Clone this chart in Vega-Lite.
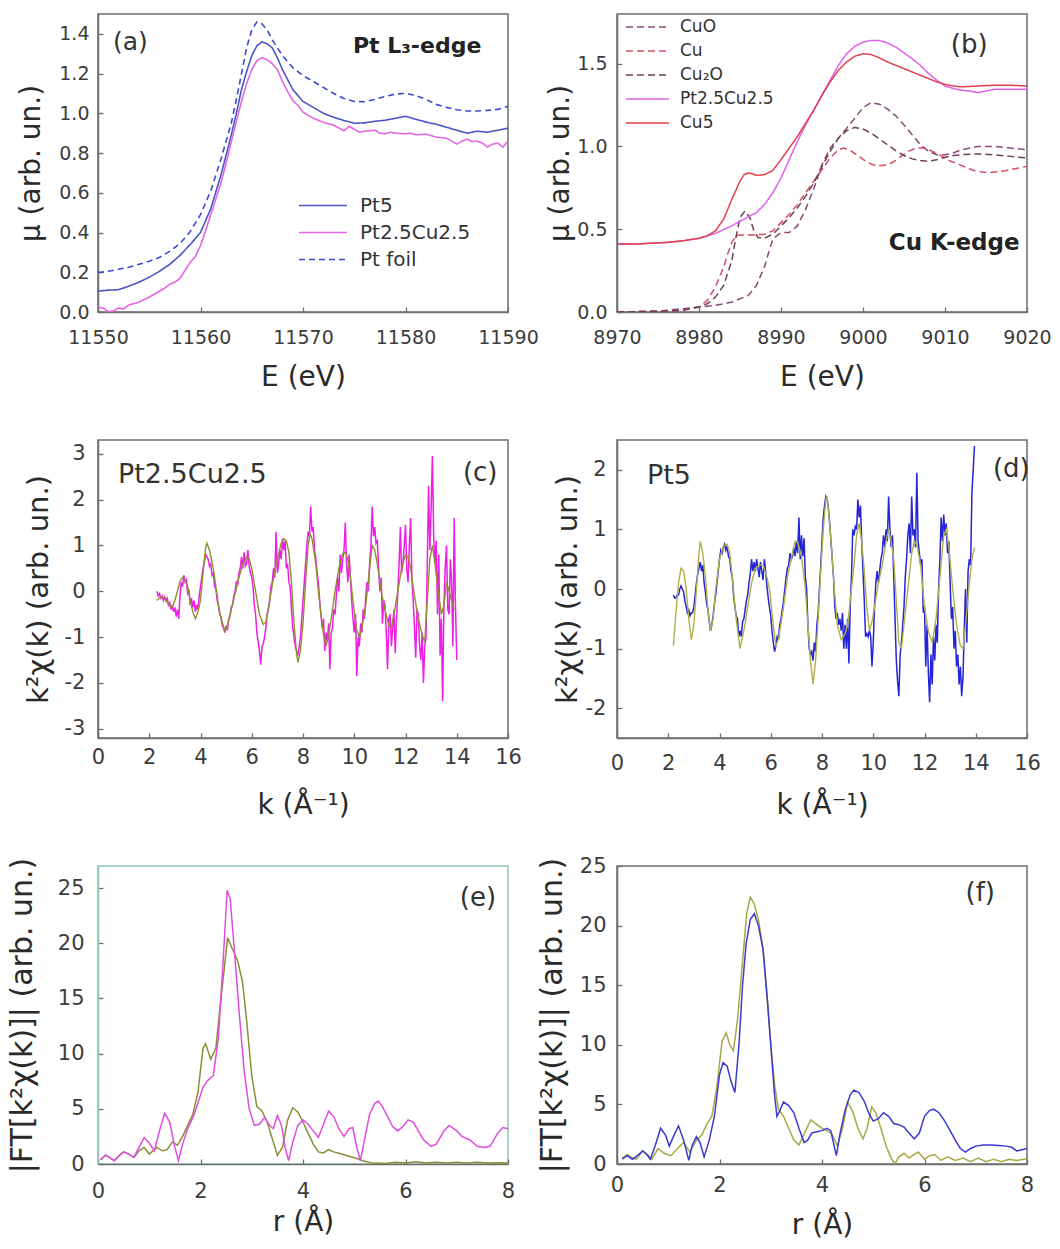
{
"$schema": "https://vega.github.io/schema/vega-lite/v6.json",
"background": "white",
"padding": {"left": 6, "top": 13, "right": 0, "bottom": 0},
"columns": 2,
"spacing": {"row": 128, "column": 109},
"bounds": "flush",
"resolve": {"scale": {"color": "independent", "strokeDash": "independent", "x": "independent", "y": "independent"}, "legend": {"color": "independent", "strokeDash": "independent"}},
"config": {
  "font": "DejaVu Sans",
  "view": {"stroke": "#6e6e6e", "strokeWidth": 1.5},
  "axis": {"grid": false, "domainColor": "#6e6e6e", "domainWidth": 1.5, "tickColor": "#6e6e6e", "tickWidth": 1.3, "tickSize": -5, "labelFont": "DejaVu Sans", "labelFontSize": 19, "labelColor": "#3c3c3c", "labelFlush": false, "labelOverlap": false, "titleFont": "DejaVu Sans", "titleFontSize": 28, "titleFontWeight": "normal", "titleColor": "#2a2a2a"},
  "axisY": {"titleBaseline": "middle"},
  "axisX": {"titleBaseline": "middle"},
  "text": {"font": "DejaVu Sans"}
},
"datasets": {
"pa": [
{"x":11550,"y":0.198,"s":"Pt foil"},{"x":11551,"y":0.205,"s":"Pt foil"},{"x":11552,"y":0.215,"s":"Pt foil"},{"x":11553,"y":0.225,"s":"Pt foil"},{"x":11554,"y":0.24,"s":"Pt foil"},{"x":11555,"y":0.255,"s":"Pt foil"},{"x":11556,"y":0.275,"s":"Pt foil"},{"x":11557,"y":0.305,"s":"Pt foil"},{"x":11558,"y":0.345,"s":"Pt foil"},{"x":11559,"y":0.405,"s":"Pt foil"},{"x":11560,"y":0.49,"s":"Pt foil"},{"x":11561,"y":0.61,"s":"Pt foil"},{"x":11562,"y":0.77,"s":"Pt foil"},{"x":11563,"y":0.95,"s":"Pt foil"},{"x":11563.5,"y":1.07,"s":"Pt foil"},{"x":11564,"y":1.2,"s":"Pt foil"},{"x":11564.5,"y":1.33,"s":"Pt foil"},{"x":11565,"y":1.42,"s":"Pt foil"},{"x":11565.5,"y":1.46,"s":"Pt foil"},{"x":11566,"y":1.45,"s":"Pt foil"},{"x":11566.5,"y":1.42,"s":"Pt foil"},{"x":11567,"y":1.37,"s":"Pt foil"},{"x":11567.5,"y":1.33,"s":"Pt foil"},{"x":11568,"y":1.29,"s":"Pt foil"},{"x":11569,"y":1.23,"s":"Pt foil"},{"x":11570,"y":1.19,"s":"Pt foil"},{"x":11571,"y":1.16,"s":"Pt foil"},{"x":11572,"y":1.13,"s":"Pt foil"},{"x":11573,"y":1.1,"s":"Pt foil"},{"x":11574,"y":1.075,"s":"Pt foil"},{"x":11575,"y":1.06,"s":"Pt foil"},{"x":11576,"y":1.058,"s":"Pt foil"},{"x":11577,"y":1.07,"s":"Pt foil"},{"x":11578,"y":1.085,"s":"Pt foil"},{"x":11579,"y":1.097,"s":"Pt foil"},{"x":11580,"y":1.1,"s":"Pt foil"},{"x":11581,"y":1.09,"s":"Pt foil"},{"x":11582,"y":1.07,"s":"Pt foil"},{"x":11583,"y":1.045,"s":"Pt foil"},{"x":11584,"y":1.03,"s":"Pt foil"},{"x":11585,"y":1.018,"s":"Pt foil"},{"x":11586,"y":1.012,"s":"Pt foil"},{"x":11587,"y":1.012,"s":"Pt foil"},{"x":11588,"y":1.015,"s":"Pt foil"},{"x":11589,"y":1.02,"s":"Pt foil"},{"x":11590,"y":1.035,"s":"Pt foil"},
{"x":11550,"y":0.105,"s":"Pt5"},{"x":11551,"y":0.11,"s":"Pt5"},{"x":11552,"y":0.112,"s":"Pt5"},{"x":11553,"y":0.13,"s":"Pt5"},{"x":11554,"y":0.15,"s":"Pt5"},{"x":11555,"y":0.175,"s":"Pt5"},{"x":11556,"y":0.205,"s":"Pt5"},{"x":11557,"y":0.24,"s":"Pt5"},{"x":11558,"y":0.285,"s":"Pt5"},{"x":11559,"y":0.34,"s":"Pt5"},{"x":11560,"y":0.4,"s":"Pt5"},{"x":11561,"y":0.52,"s":"Pt5"},{"x":11562,"y":0.69,"s":"Pt5"},{"x":11563,"y":0.89,"s":"Pt5"},{"x":11563.5,"y":1.0,"s":"Pt5"},{"x":11564,"y":1.12,"s":"Pt5"},{"x":11564.5,"y":1.21,"s":"Pt5"},{"x":11565,"y":1.29,"s":"Pt5"},{"x":11565.5,"y":1.34,"s":"Pt5"},{"x":11566,"y":1.36,"s":"Pt5"},{"x":11566.5,"y":1.35,"s":"Pt5"},{"x":11567,"y":1.33,"s":"Pt5"},{"x":11567.5,"y":1.28,"s":"Pt5"},{"x":11568,"y":1.22,"s":"Pt5"},{"x":11568.5,"y":1.17,"s":"Pt5"},{"x":11569,"y":1.12,"s":"Pt5"},{"x":11569.5,"y":1.09,"s":"Pt5"},{"x":11570,"y":1.06,"s":"Pt5"},{"x":11571,"y":1.03,"s":"Pt5"},{"x":11572,"y":1.0,"s":"Pt5"},{"x":11573,"y":0.98,"s":"Pt5"},{"x":11574,"y":0.964,"s":"Pt5"},{"x":11575,"y":0.95,"s":"Pt5"},{"x":11576,"y":0.952,"s":"Pt5"},{"x":11577,"y":0.96,"s":"Pt5"},{"x":11578,"y":0.965,"s":"Pt5"},{"x":11579,"y":0.975,"s":"Pt5"},{"x":11580,"y":0.985,"s":"Pt5"},{"x":11581,"y":0.97,"s":"Pt5"},{"x":11582,"y":0.956,"s":"Pt5"},{"x":11583,"y":0.945,"s":"Pt5"},{"x":11584,"y":0.93,"s":"Pt5"},{"x":11585,"y":0.915,"s":"Pt5"},{"x":11586,"y":0.9,"s":"Pt5"},{"x":11587,"y":0.91,"s":"Pt5"},{"x":11588,"y":0.905,"s":"Pt5"},{"x":11589,"y":0.915,"s":"Pt5"},{"x":11590,"y":0.925,"s":"Pt5"},
{"x":11550,"y":0.025,"s":"Pt2.5Cu2.5"},{"x":11550.5,"y":0.02,"s":"Pt2.5Cu2.5"},{"x":11551,"y":0.002,"s":"Pt2.5Cu2.5"},{"x":11551.5,"y":0.005,"s":"Pt2.5Cu2.5"},{"x":11552,"y":0.02,"s":"Pt2.5Cu2.5"},{"x":11552.5,"y":0.015,"s":"Pt2.5Cu2.5"},{"x":11553,"y":0.035,"s":"Pt2.5Cu2.5"},{"x":11554,"y":0.05,"s":"Pt2.5Cu2.5"},{"x":11555,"y":0.075,"s":"Pt2.5Cu2.5"},{"x":11556,"y":0.105,"s":"Pt2.5Cu2.5"},{"x":11556.5,"y":0.12,"s":"Pt2.5Cu2.5"},{"x":11557,"y":0.14,"s":"Pt2.5Cu2.5"},{"x":11557.5,"y":0.15,"s":"Pt2.5Cu2.5"},{"x":11558,"y":0.17,"s":"Pt2.5Cu2.5"},{"x":11558.5,"y":0.21,"s":"Pt2.5Cu2.5"},{"x":11559,"y":0.25,"s":"Pt2.5Cu2.5"},{"x":11559.5,"y":0.28,"s":"Pt2.5Cu2.5"},{"x":11560,"y":0.335,"s":"Pt2.5Cu2.5"},{"x":11560.5,"y":0.41,"s":"Pt2.5Cu2.5"},{"x":11561,"y":0.49,"s":"Pt2.5Cu2.5"},{"x":11561.5,"y":0.57,"s":"Pt2.5Cu2.5"},{"x":11562,"y":0.65,"s":"Pt2.5Cu2.5"},{"x":11562.5,"y":0.75,"s":"Pt2.5Cu2.5"},{"x":11563,"y":0.855,"s":"Pt2.5Cu2.5"},{"x":11563.5,"y":0.96,"s":"Pt2.5Cu2.5"},{"x":11564,"y":1.06,"s":"Pt2.5Cu2.5"},{"x":11564.5,"y":1.15,"s":"Pt2.5Cu2.5"},{"x":11565,"y":1.22,"s":"Pt2.5Cu2.5"},{"x":11565.5,"y":1.265,"s":"Pt2.5Cu2.5"},{"x":11566,"y":1.28,"s":"Pt2.5Cu2.5"},{"x":11566.5,"y":1.27,"s":"Pt2.5Cu2.5"},{"x":11567,"y":1.25,"s":"Pt2.5Cu2.5"},{"x":11567.5,"y":1.22,"s":"Pt2.5Cu2.5"},{"x":11568,"y":1.16,"s":"Pt2.5Cu2.5"},{"x":11568.5,"y":1.11,"s":"Pt2.5Cu2.5"},{"x":11569,"y":1.065,"s":"Pt2.5Cu2.5"},{"x":11569.5,"y":1.04,"s":"Pt2.5Cu2.5"},{"x":11570,"y":1.006,"s":"Pt2.5Cu2.5"},{"x":11570.5,"y":0.99,"s":"Pt2.5Cu2.5"},{"x":11571,"y":0.975,"s":"Pt2.5Cu2.5"},{"x":11572,"y":0.955,"s":"Pt2.5Cu2.5"},{"x":11573,"y":0.94,"s":"Pt2.5Cu2.5"},{"x":11574,"y":0.912,"s":"Pt2.5Cu2.5"},{"x":11574.5,"y":0.935,"s":"Pt2.5Cu2.5"},{"x":11575,"y":0.92,"s":"Pt2.5Cu2.5"},{"x":11575.5,"y":0.905,"s":"Pt2.5Cu2.5"},{"x":11576,"y":0.91,"s":"Pt2.5Cu2.5"},{"x":11577,"y":0.915,"s":"Pt2.5Cu2.5"},{"x":11577.5,"y":0.9,"s":"Pt2.5Cu2.5"},{"x":11578,"y":0.897,"s":"Pt2.5Cu2.5"},{"x":11578.5,"y":0.905,"s":"Pt2.5Cu2.5"},{"x":11579,"y":0.9,"s":"Pt2.5Cu2.5"},{"x":11580,"y":0.897,"s":"Pt2.5Cu2.5"},{"x":11580.5,"y":0.9,"s":"Pt2.5Cu2.5"},{"x":11581,"y":0.892,"s":"Pt2.5Cu2.5"},{"x":11582,"y":0.895,"s":"Pt2.5Cu2.5"},{"x":11583,"y":0.88,"s":"Pt2.5Cu2.5"},{"x":11584,"y":0.875,"s":"Pt2.5Cu2.5"},{"x":11584.5,"y":0.86,"s":"Pt2.5Cu2.5"},{"x":11585,"y":0.845,"s":"Pt2.5Cu2.5"},{"x":11585.5,"y":0.86,"s":"Pt2.5Cu2.5"},{"x":11586,"y":0.87,"s":"Pt2.5Cu2.5"},{"x":11586.5,"y":0.858,"s":"Pt2.5Cu2.5"},{"x":11587,"y":0.86,"s":"Pt2.5Cu2.5"},{"x":11587.5,"y":0.85,"s":"Pt2.5Cu2.5"},{"x":11588,"y":0.83,"s":"Pt2.5Cu2.5"},{"x":11588.5,"y":0.845,"s":"Pt2.5Cu2.5"},{"x":11589,"y":0.85,"s":"Pt2.5Cu2.5"},{"x":11589.5,"y":0.83,"s":"Pt2.5Cu2.5"},{"x":11590,"y":0.86,"s":"Pt2.5Cu2.5"}
],
"pb": [
{"x":8970,"y":0.0,"s":"CuO"},{"x":8975,"y":0.005,"s":"CuO"},{"x":8980,"y":0.03,"s":"CuO"},{"x":8982,"y":0.04,"s":"CuO"},{"x":8984,"y":0.06,"s":"CuO"},{"x":8986,"y":0.1,"s":"CuO"},{"x":8987,"y":0.16,"s":"CuO"},{"x":8988,"y":0.275,"s":"CuO"},{"x":8988.5,"y":0.36,"s":"CuO"},{"x":8989,"y":0.44,"s":"CuO"},{"x":8990,"y":0.48,"s":"CuO"},{"x":8991,"y":0.48,"s":"CuO"},{"x":8992,"y":0.52,"s":"CuO"},{"x":8993,"y":0.62,"s":"CuO"},{"x":8994,"y":0.745,"s":"CuO"},{"x":8995,"y":0.89,"s":"CuO"},{"x":8996,"y":0.99,"s":"CuO"},{"x":8997,"y":1.05,"s":"CuO"},{"x":8998,"y":1.11,"s":"CuO"},{"x":8999,"y":1.17,"s":"CuO"},{"x":9000,"y":1.235,"s":"CuO"},{"x":9001,"y":1.265,"s":"CuO"},{"x":9002,"y":1.255,"s":"CuO"},{"x":9003,"y":1.225,"s":"CuO"},{"x":9004,"y":1.185,"s":"CuO"},{"x":9005,"y":1.13,"s":"CuO"},{"x":9006,"y":1.07,"s":"CuO"},{"x":9007,"y":1.01,"s":"CuO"},{"x":9008,"y":0.97,"s":"CuO"},{"x":9009,"y":0.95,"s":"CuO"},{"x":9010,"y":0.95,"s":"CuO"},{"x":9011,"y":0.96,"s":"CuO"},{"x":9012,"y":0.98,"s":"CuO"},{"x":9014,"y":1.0,"s":"CuO"},{"x":9016,"y":1.0,"s":"CuO"},{"x":9018,"y":0.99,"s":"CuO"},{"x":9020,"y":0.98,"s":"CuO"},
{"x":8970,"y":0.0,"s":"Cu"},{"x":8975,"y":0.005,"s":"Cu"},{"x":8978,"y":0.01,"s":"Cu"},{"x":8980,"y":0.03,"s":"Cu"},{"x":8981,"y":0.07,"s":"Cu"},{"x":8982,"y":0.15,"s":"Cu"},{"x":8983,"y":0.27,"s":"Cu"},{"x":8983.5,"y":0.35,"s":"Cu"},{"x":8984,"y":0.42,"s":"Cu"},{"x":8984.5,"y":0.46,"s":"Cu"},{"x":8985,"y":0.465,"s":"Cu"},{"x":8986,"y":0.465,"s":"Cu"},{"x":8987,"y":0.465,"s":"Cu"},{"x":8988,"y":0.47,"s":"Cu"},{"x":8989,"y":0.49,"s":"Cu"},{"x":8990,"y":0.54,"s":"Cu"},{"x":8991,"y":0.59,"s":"Cu"},{"x":8992,"y":0.65,"s":"Cu"},{"x":8993,"y":0.72,"s":"Cu"},{"x":8994,"y":0.79,"s":"Cu"},{"x":8995,"y":0.86,"s":"Cu"},{"x":8996,"y":0.93,"s":"Cu"},{"x":8997,"y":0.98,"s":"Cu"},{"x":8997.6,"y":0.99,"s":"Cu"},{"x":8998.5,"y":0.975,"s":"Cu"},{"x":8999.5,"y":0.94,"s":"Cu"},{"x":9000.5,"y":0.905,"s":"Cu"},{"x":9001.5,"y":0.885,"s":"Cu"},{"x":9002.5,"y":0.885,"s":"Cu"},{"x":9003.5,"y":0.9,"s":"Cu"},{"x":9004.5,"y":0.935,"s":"Cu"},{"x":9005.5,"y":0.97,"s":"Cu"},{"x":9006.5,"y":0.99,"s":"Cu"},{"x":9007.5,"y":0.99,"s":"Cu"},{"x":9008.5,"y":0.97,"s":"Cu"},{"x":9009.5,"y":0.945,"s":"Cu"},{"x":9010.5,"y":0.915,"s":"Cu"},{"x":9011.5,"y":0.895,"s":"Cu"},{"x":9012.5,"y":0.875,"s":"Cu"},{"x":9013.5,"y":0.855,"s":"Cu"},{"x":9014.5,"y":0.845,"s":"Cu"},{"x":9015.5,"y":0.842,"s":"Cu"},{"x":9016.5,"y":0.848,"s":"Cu"},{"x":9017.5,"y":0.855,"s":"Cu"},{"x":9018.5,"y":0.865,"s":"Cu"},{"x":9019.5,"y":0.875,"s":"Cu"},{"x":9020,"y":0.88,"s":"Cu"},
{"x":8970,"y":0.0,"s":"Cu₂O"},{"x":8975,"y":0.005,"s":"Cu₂O"},{"x":8978,"y":0.01,"s":"Cu₂O"},{"x":8980,"y":0.03,"s":"Cu₂O"},{"x":8981,"y":0.05,"s":"Cu₂O"},{"x":8982,"y":0.09,"s":"Cu₂O"},{"x":8983,"y":0.16,"s":"Cu₂O"},{"x":8984,"y":0.31,"s":"Cu₂O"},{"x":8984.5,"y":0.45,"s":"Cu₂O"},{"x":8985,"y":0.57,"s":"Cu₂O"},{"x":8985.6,"y":0.61,"s":"Cu₂O"},{"x":8986.2,"y":0.57,"s":"Cu₂O"},{"x":8986.7,"y":0.49,"s":"Cu₂O"},{"x":8987.2,"y":0.45,"s":"Cu₂O"},{"x":8988,"y":0.445,"s":"Cu₂O"},{"x":8989,"y":0.47,"s":"Cu₂O"},{"x":8990,"y":0.52,"s":"Cu₂O"},{"x":8991,"y":0.57,"s":"Cu₂O"},{"x":8992,"y":0.63,"s":"Cu₂O"},{"x":8993,"y":0.7,"s":"Cu₂O"},{"x":8994,"y":0.78,"s":"Cu₂O"},{"x":8995,"y":0.88,"s":"Cu₂O"},{"x":8996,"y":0.97,"s":"Cu₂O"},{"x":8997,"y":1.05,"s":"Cu₂O"},{"x":8998,"y":1.095,"s":"Cu₂O"},{"x":8999,"y":1.115,"s":"Cu₂O"},{"x":9000,"y":1.105,"s":"Cu₂O"},{"x":9001,"y":1.08,"s":"Cu₂O"},{"x":9002,"y":1.045,"s":"Cu₂O"},{"x":9003,"y":1.01,"s":"Cu₂O"},{"x":9004,"y":0.975,"s":"Cu₂O"},{"x":9005,"y":0.945,"s":"Cu₂O"},{"x":9006,"y":0.925,"s":"Cu₂O"},{"x":9007,"y":0.915,"s":"Cu₂O"},{"x":9008,"y":0.91,"s":"Cu₂O"},{"x":9009,"y":0.92,"s":"Cu₂O"},{"x":9010,"y":0.935,"s":"Cu₂O"},{"x":9011,"y":0.945,"s":"Cu₂O"},{"x":9012,"y":0.95,"s":"Cu₂O"},{"x":9014,"y":0.955,"s":"Cu₂O"},{"x":9016,"y":0.95,"s":"Cu₂O"},{"x":9018,"y":0.94,"s":"Cu₂O"},{"x":9020,"y":0.93,"s":"Cu₂O"},
{"x":8970,"y":0.41,"s":"Pt2.5Cu2.5"},{"x":8972,"y":0.41,"s":"Pt2.5Cu2.5"},{"x":8974,"y":0.415,"s":"Pt2.5Cu2.5"},{"x":8976,"y":0.42,"s":"Pt2.5Cu2.5"},{"x":8978,"y":0.43,"s":"Pt2.5Cu2.5"},{"x":8980,"y":0.445,"s":"Pt2.5Cu2.5"},{"x":8982,"y":0.475,"s":"Pt2.5Cu2.5"},{"x":8984,"y":0.52,"s":"Pt2.5Cu2.5"},{"x":8986,"y":0.575,"s":"Pt2.5Cu2.5"},{"x":8987,"y":0.6,"s":"Pt2.5Cu2.5"},{"x":8988,"y":0.65,"s":"Pt2.5Cu2.5"},{"x":8989,"y":0.72,"s":"Pt2.5Cu2.5"},{"x":8990,"y":0.81,"s":"Pt2.5Cu2.5"},{"x":8991,"y":0.92,"s":"Pt2.5Cu2.5"},{"x":8992,"y":1.03,"s":"Pt2.5Cu2.5"},{"x":8993,"y":1.13,"s":"Pt2.5Cu2.5"},{"x":8994,"y":1.22,"s":"Pt2.5Cu2.5"},{"x":8995,"y":1.31,"s":"Pt2.5Cu2.5"},{"x":8996,"y":1.4,"s":"Pt2.5Cu2.5"},{"x":8997,"y":1.49,"s":"Pt2.5Cu2.5"},{"x":8998,"y":1.56,"s":"Pt2.5Cu2.5"},{"x":8999,"y":1.605,"s":"Pt2.5Cu2.5"},{"x":9000,"y":1.63,"s":"Pt2.5Cu2.5"},{"x":9001,"y":1.64,"s":"Pt2.5Cu2.5"},{"x":9002,"y":1.64,"s":"Pt2.5Cu2.5"},{"x":9003,"y":1.625,"s":"Pt2.5Cu2.5"},{"x":9004,"y":1.6,"s":"Pt2.5Cu2.5"},{"x":9005,"y":1.565,"s":"Pt2.5Cu2.5"},{"x":9006,"y":1.53,"s":"Pt2.5Cu2.5"},{"x":9007,"y":1.49,"s":"Pt2.5Cu2.5"},{"x":9008,"y":1.44,"s":"Pt2.5Cu2.5"},{"x":9009,"y":1.4,"s":"Pt2.5Cu2.5"},{"x":9010,"y":1.365,"s":"Pt2.5Cu2.5"},{"x":9011,"y":1.35,"s":"Pt2.5Cu2.5"},{"x":9012,"y":1.34,"s":"Pt2.5Cu2.5"},{"x":9013,"y":1.335,"s":"Pt2.5Cu2.5"},{"x":9014,"y":1.325,"s":"Pt2.5Cu2.5"},{"x":9015,"y":1.335,"s":"Pt2.5Cu2.5"},{"x":9016,"y":1.345,"s":"Pt2.5Cu2.5"},{"x":9018,"y":1.345,"s":"Pt2.5Cu2.5"},{"x":9020,"y":1.345,"s":"Pt2.5Cu2.5"},
{"x":8970,"y":0.41,"s":"Cu5"},{"x":8972,"y":0.41,"s":"Cu5"},{"x":8974,"y":0.415,"s":"Cu5"},{"x":8976,"y":0.42,"s":"Cu5"},{"x":8978,"y":0.43,"s":"Cu5"},{"x":8980,"y":0.445,"s":"Cu5"},{"x":8981,"y":0.46,"s":"Cu5"},{"x":8982,"y":0.49,"s":"Cu5"},{"x":8983,"y":0.56,"s":"Cu5"},{"x":8984,"y":0.68,"s":"Cu5"},{"x":8985,"y":0.79,"s":"Cu5"},{"x":8985.5,"y":0.83,"s":"Cu5"},{"x":8986,"y":0.84,"s":"Cu5"},{"x":8986.5,"y":0.835,"s":"Cu5"},{"x":8987,"y":0.825,"s":"Cu5"},{"x":8988,"y":0.83,"s":"Cu5"},{"x":8989,"y":0.855,"s":"Cu5"},{"x":8990,"y":0.92,"s":"Cu5"},{"x":8991,"y":0.99,"s":"Cu5"},{"x":8992,"y":1.06,"s":"Cu5"},{"x":8993,"y":1.14,"s":"Cu5"},{"x":8994,"y":1.22,"s":"Cu5"},{"x":8995,"y":1.31,"s":"Cu5"},{"x":8996,"y":1.39,"s":"Cu5"},{"x":8997,"y":1.46,"s":"Cu5"},{"x":8998,"y":1.51,"s":"Cu5"},{"x":8999,"y":1.545,"s":"Cu5"},{"x":9000,"y":1.56,"s":"Cu5"},{"x":9001,"y":1.555,"s":"Cu5"},{"x":9002,"y":1.535,"s":"Cu5"},{"x":9003,"y":1.51,"s":"Cu5"},{"x":9004,"y":1.49,"s":"Cu5"},{"x":9005,"y":1.47,"s":"Cu5"},{"x":9006,"y":1.45,"s":"Cu5"},{"x":9007,"y":1.43,"s":"Cu5"},{"x":9008,"y":1.41,"s":"Cu5"},{"x":9009,"y":1.39,"s":"Cu5"},{"x":9010,"y":1.375,"s":"Cu5"},{"x":9011,"y":1.365,"s":"Cu5"},{"x":9012,"y":1.36,"s":"Cu5"},{"x":9014,"y":1.365,"s":"Cu5"},{"x":9016,"y":1.37,"s":"Cu5"},{"x":9018,"y":1.37,"s":"Cu5"},{"x":9020,"y":1.365,"s":"Cu5"}
],
"cfit": [
{"x":2.3,"y":-0.2},{"x":2.45,"y":-0.12},{"x":2.6,"y":-0.15},{"x":2.75,"y":-0.28},{"x":2.9,"y":-0.35},{"x":3.0,"y":-0.2},{"x":3.1,"y":0.0},{"x":3.2,"y":0.22},{"x":3.3,"y":0.3},{"x":3.4,"y":0.25},{"x":3.5,"y":0.1},{"x":3.6,"y":-0.2},{"x":3.7,"y":-0.45},{"x":3.8,"y":-0.6},{"x":3.9,"y":-0.45},{"x":4.0,"y":-0.2},{"x":4.1,"y":0.4},{"x":4.2,"y":0.95},{"x":4.25,"y":1.05},{"x":4.35,"y":0.9},{"x":4.5,"y":0.5},{"x":4.6,"y":0.1},{"x":4.7,"y":-0.3},{"x":4.8,"y":-0.6},{"x":4.95,"y":-0.85},{"x":5.05,"y":-0.75},{"x":5.2,"y":-0.4},{"x":5.35,"y":-0.05},{"x":5.5,"y":0.3},{"x":5.65,"y":0.6},{"x":5.8,"y":0.75},{"x":5.9,"y":0.7},{"x":6.0,"y":0.5},{"x":6.15,"y":0.0},{"x":6.3,"y":-0.5},{"x":6.45,"y":-0.72},{"x":6.55,"y":-0.68},{"x":6.7,"y":-0.2},{"x":6.85,"y":0.3},{"x":7.0,"y":0.7},{"x":7.15,"y":1.05},{"x":7.25,"y":1.15},{"x":7.35,"y":1.1},{"x":7.45,"y":0.85},{"x":7.55,"y":0.2},{"x":7.65,"y":-0.7},{"x":7.75,"y":-1.35},{"x":7.8,"y":-1.55},{"x":7.9,"y":-1.3},{"x":8.0,"y":-0.7},{"x":8.1,"y":0.2},{"x":8.2,"y":1.0},{"x":8.28,"y":1.25},{"x":8.35,"y":1.15},{"x":8.5,"y":0.6},{"x":8.6,"y":0.0},{"x":8.7,"y":-0.5},{"x":8.8,"y":-0.95},{"x":8.9,"y":-1.2},{"x":9.0,"y":-0.95},{"x":9.1,"y":-0.6},{"x":9.25,"y":0.0},{"x":9.4,"y":0.5},{"x":9.55,"y":0.82},{"x":9.65,"y":0.85},{"x":9.75,"y":0.7},{"x":9.85,"y":0.3},{"x":10.0,"y":-0.45},{"x":10.1,"y":-0.85},{"x":10.2,"y":-1.0},{"x":10.3,"y":-0.8},{"x":10.45,"y":-0.3},{"x":10.6,"y":0.5},{"x":10.7,"y":1.0},{"x":10.8,"y":0.9},{"x":10.9,"y":0.6},{"x":11.05,"y":0.0},{"x":11.2,"y":-0.4},{"x":11.35,"y":-0.75},{"x":11.45,"y":-0.8},{"x":11.55,"y":-0.5},{"x":11.7,"y":0.0},{"x":11.85,"y":0.5},{"x":12.0,"y":0.8},{"x":12.1,"y":0.75},{"x":12.2,"y":0.5},{"x":12.35,"y":-0.1},{"x":12.5,"y":-0.6},{"x":12.65,"y":-0.95},{"x":12.75,"y":-1.1},{"x":12.85,"y":-0.2},{"x":12.95,"y":0.7},{"x":13.05,"y":1.0},{"x":13.15,"y":0.6},{"x":13.25,"y":0.1},{"x":13.4,"y":-0.5},{"x":13.5,"y":-0.3},{"x":13.6,"y":0.2},{"x":13.75,"y":-0.1},{"x":13.9,"y":-0.4}
],
"cdat": [
{"x":2.3,"y":0.0},{"x":2.35,"y":-0.1},{"x":2.4,"y":-0.05},{"x":2.45,"y":-0.15},{"x":2.5,"y":-0.1},{"x":2.55,"y":-0.2},{"x":2.6,"y":-0.12},{"x":2.65,"y":-0.2},{"x":2.7,"y":-0.15},{"x":2.75,"y":-0.3},{"x":2.8,"y":-0.25},{"x":2.85,"y":-0.4},{"x":2.9,"y":-0.3},{"x":2.95,"y":-0.45},{"x":3.0,"y":-0.35},{"x":3.05,"y":-0.55},{"x":3.1,"y":-0.4},{"x":3.15,"y":-0.6},{"x":3.2,"y":-0.1},{"x":3.25,"y":0.2},{"x":3.3,"y":0.1},{"x":3.35,"y":0.35},{"x":3.4,"y":0.2},{"x":3.45,"y":0.25},{"x":3.5,"y":-0.05},{"x":3.55,"y":0.0},{"x":3.6,"y":-0.3},{"x":3.65,"y":-0.15},{"x":3.7,"y":-0.35},{"x":3.75,"y":-0.2},{"x":3.8,"y":-0.45},{"x":3.85,"y":-0.3},{"x":3.9,"y":-0.4},{"x":3.95,"y":-0.1},{"x":4.0,"y":0.1},{"x":4.05,"y":0.3},{"x":4.1,"y":0.5},{"x":4.15,"y":0.65},{"x":4.2,"y":0.8},{"x":4.25,"y":0.75},{"x":4.3,"y":0.7},{"x":4.35,"y":0.55},{"x":4.4,"y":0.6},{"x":4.45,"y":0.35},{"x":4.5,"y":0.4},{"x":4.55,"y":0.1},{"x":4.6,"y":0.05},{"x":4.65,"y":-0.2},{"x":4.7,"y":-0.3},{"x":4.75,"y":-0.5},{"x":4.8,"y":-0.55},{"x":4.85,"y":-0.75},{"x":4.9,"y":-0.8},{"x":4.95,"y":-0.9},{"x":5.0,"y":-0.75},{"x":5.05,"y":-0.85},{"x":5.1,"y":-0.6},{"x":5.15,"y":-0.55},{"x":5.2,"y":-0.35},{"x":5.25,"y":-0.3},{"x":5.3,"y":-0.1},{"x":5.35,"y":0.0},{"x":5.4,"y":0.2},{"x":5.45,"y":0.15},{"x":5.5,"y":0.4},{"x":5.55,"y":0.5},{"x":5.6,"y":0.75},{"x":5.65,"y":0.5},{"x":5.7,"y":0.85},{"x":5.75,"y":0.55},{"x":5.8,"y":0.6},{"x":5.85,"y":0.9},{"x":5.9,"y":0.55},{"x":5.95,"y":0.4},{"x":6.0,"y":0.3},{"x":6.05,"y":0.1},{"x":6.1,"y":-0.3},{"x":6.15,"y":-0.5},{"x":6.2,"y":-0.9},{"x":6.25,"y":-1.1},{"x":6.3,"y":-1.3},{"x":6.35,"y":-1.6},{"x":6.4,"y":-1.2},{"x":6.45,"y":-1.15},{"x":6.5,"y":-1.0},{"x":6.55,"y":-0.8},{"x":6.6,"y":-0.5},{"x":6.65,"y":-0.4},{"x":6.7,"y":-0.2},{"x":6.75,"y":0.1},{"x":6.8,"y":0.2},{"x":6.85,"y":0.5},{"x":6.9,"y":0.3},{"x":6.95,"y":1.3},{"x":7.0,"y":0.4},{"x":7.05,"y":0.6},{"x":7.1,"y":0.9},{"x":7.15,"y":0.7},{"x":7.2,"y":1.15},{"x":7.25,"y":0.9},{"x":7.3,"y":1.1},{"x":7.35,"y":0.5},{"x":7.4,"y":0.6},{"x":7.45,"y":0.2},{"x":7.5,"y":0.1},{"x":7.55,"y":-0.4},{"x":7.6,"y":-0.8},{"x":7.65,"y":-1.0},{"x":7.7,"y":-1.2},{"x":7.75,"y":-1.3},{"x":7.8,"y":-1.4},{"x":7.85,"y":-1.2},{"x":7.9,"y":-1.0},{"x":7.95,"y":-0.6},{"x":8.0,"y":-0.2},{"x":8.05,"y":0.2},{"x":8.1,"y":0.6},{"x":8.15,"y":1.0},{"x":8.2,"y":1.3},{"x":8.25,"y":1.2},{"x":8.3,"y":1.85},{"x":8.35,"y":1.3},{"x":8.4,"y":1.4},{"x":8.45,"y":0.9},{"x":8.5,"y":0.7},{"x":8.55,"y":0.4},{"x":8.6,"y":0.2},{"x":8.65,"y":-0.2},{"x":8.7,"y":-0.5},{"x":8.75,"y":-0.8},{"x":8.8,"y":-0.6},{"x":8.85,"y":-1.3},{"x":8.9,"y":-0.9},{"x":8.95,"y":-1.1},{"x":9.0,"y":-0.7},{"x":9.05,"y":-1.7},{"x":9.1,"y":-0.9},{"x":9.15,"y":-0.8},{"x":9.2,"y":-0.4},{"x":9.25,"y":-0.5},{"x":9.3,"y":-0.1},{"x":9.35,"y":0.3},{"x":9.4,"y":0.0},{"x":9.45,"y":0.8},{"x":9.5,"y":0.4},{"x":9.55,"y":0.7},{"x":9.6,"y":0.9},{"x":9.65,"y":1.5},{"x":9.7,"y":0.6},{"x":9.75,"y":0.2},{"x":9.8,"y":0.8},{"x":9.85,"y":0.3},{"x":9.9,"y":-0.2},{"x":9.95,"y":-0.6},{"x":10.0,"y":-0.9},{"x":10.05,"y":-0.5},{"x":10.1,"y":-1.85},{"x":10.15,"y":-1.0},{"x":10.2,"y":-1.2},{"x":10.25,"y":-0.7},{"x":10.3,"y":-0.9},{"x":10.35,"y":-0.4},{"x":10.4,"y":-0.6},{"x":10.45,"y":-0.1},{"x":10.5,"y":0.2},{"x":10.55,"y":0.0},{"x":10.6,"y":0.6},{"x":10.65,"y":1.0},{"x":10.7,"y":1.85},{"x":10.75,"y":1.2},{"x":10.8,"y":1.4},{"x":10.85,"y":1.05},{"x":10.9,"y":1.1},{"x":10.95,"y":0.5},{"x":11.0,"y":0.0},{"x":11.05,"y":0.3},{"x":11.1,"y":-0.7},{"x":11.15,"y":-0.2},{"x":11.2,"y":-0.3},{"x":11.25,"y":-0.9},{"x":11.3,"y":-1.7},{"x":11.35,"y":-0.6},{"x":11.4,"y":-0.5},{"x":11.45,"y":-1.2},{"x":11.5,"y":-0.8},{"x":11.55,"y":-0.4},{"x":11.6,"y":-1.35},{"x":11.65,"y":-0.6},{"x":11.7,"y":0.0},{"x":11.75,"y":0.6},{"x":11.8,"y":1.4},{"x":11.85,"y":0.4},{"x":11.9,"y":0.6},{"x":11.95,"y":1.0},{"x":12.0,"y":1.45},{"x":12.05,"y":0.5},{"x":12.1,"y":0.2},{"x":12.15,"y":1.0},{"x":12.2,"y":1.6},{"x":12.25,"y":0.3},{"x":12.3,"y":-0.2},{"x":12.35,"y":-0.8},{"x":12.4,"y":-1.45},{"x":12.45,"y":-0.4},{"x":12.5,"y":-0.5},{"x":12.55,"y":-1.2},{"x":12.6,"y":-1.5},{"x":12.65,"y":-0.9},{"x":12.7,"y":-2.0},{"x":12.75,"y":-1.2},{"x":12.8,"y":-1.0},{"x":12.85,"y":0.6},{"x":12.9,"y":2.3},{"x":12.95,"y":0.9},{"x":13.0,"y":1.8},{"x":13.05,"y":2.95},{"x":13.1,"y":1.2},{"x":13.15,"y":0.6},{"x":13.2,"y":1.1},{"x":13.25,"y":-0.5},{"x":13.3,"y":0.8},{"x":13.35,"y":-1.4},{"x":13.4,"y":-0.6},{"x":13.45,"y":-2.4},{"x":13.5,"y":-0.3},{"x":13.55,"y":0.5},{"x":13.6,"y":1.0},{"x":13.65,"y":-0.4},{"x":13.7,"y":-0.5},{"x":13.75,"y":0.7},{"x":13.8,"y":0.2},{"x":13.85,"y":-1.2},{"x":13.9,"y":1.6},{"x":13.95,"y":-0.3},{"x":14.0,"y":-1.5}
],
"dfit": [
{"x":2.2,"y":-0.95},{"x":2.3,"y":-0.4},{"x":2.4,"y":0.1},{"x":2.5,"y":0.35},{"x":2.6,"y":0.3},{"x":2.7,"y":0.0},{"x":2.8,"y":-0.5},{"x":2.9,"y":-0.85},{"x":3.0,"y":-0.6},{"x":3.1,"y":0.0},{"x":3.2,"y":0.6},{"x":3.25,"y":0.8},{"x":3.35,"y":0.6},{"x":3.45,"y":0.2},{"x":3.55,"y":-0.35},{"x":3.65,"y":-0.7},{"x":3.75,"y":-0.5},{"x":3.85,"y":0.0},{"x":4.0,"y":0.5},{"x":4.15,"y":0.72},{"x":4.3,"y":0.75},{"x":4.4,"y":0.6},{"x":4.5,"y":0.2},{"x":4.65,"y":-0.5},{"x":4.8,"y":-1.0},{"x":4.95,"y":-0.7},{"x":5.1,"y":-0.3},{"x":5.25,"y":0.1},{"x":5.4,"y":0.35},{"x":5.55,"y":0.4},{"x":5.7,"y":0.4},{"x":5.85,"y":0.2},{"x":5.95,"y":0.0},{"x":6.1,"y":-0.6},{"x":6.2,"y":-0.95},{"x":6.3,"y":-0.85},{"x":6.5,"y":-0.3},{"x":6.65,"y":0.2},{"x":6.8,"y":0.5},{"x":6.95,"y":0.8},{"x":7.05,"y":0.78},{"x":7.2,"y":0.55},{"x":7.35,"y":0.0},{"x":7.45,"y":-0.6},{"x":7.55,"y":-1.2},{"x":7.65,"y":-1.6},{"x":7.75,"y":-1.2},{"x":7.85,"y":-0.5},{"x":7.95,"y":0.3},{"x":8.05,"y":1.0},{"x":8.15,"y":1.5},{"x":8.2,"y":1.55},{"x":8.3,"y":1.1},{"x":8.4,"y":0.5},{"x":8.5,"y":-0.1},{"x":8.6,"y":-0.6},{"x":8.75,"y":-0.85},{"x":8.9,"y":-0.75},{"x":9.0,"y":-0.6},{"x":9.15,"y":0.0},{"x":9.25,"y":0.4},{"x":9.35,"y":0.9},{"x":9.45,"y":1.1},{"x":9.55,"y":0.8},{"x":9.65,"y":0.3},{"x":9.75,"y":-0.3},{"x":9.85,"y":-0.7},{"x":9.95,"y":-0.55},{"x":10.05,"y":-0.3},{"x":10.2,"y":0.1},{"x":10.35,"y":0.4},{"x":10.5,"y":0.8},{"x":10.6,"y":1.0},{"x":10.7,"y":0.8},{"x":10.8,"y":0.5},{"x":10.9,"y":-0.2},{"x":11.0,"y":-0.9},{"x":11.1,"y":-1.0},{"x":11.2,"y":-0.6},{"x":11.35,"y":0.0},{"x":11.5,"y":0.6},{"x":11.6,"y":0.8},{"x":11.7,"y":0.75},{"x":11.85,"y":0.4},{"x":12.0,"y":-0.3},{"x":12.15,"y":-0.7},{"x":12.3,"y":-0.9},{"x":12.45,"y":-0.5},{"x":12.6,"y":0.2},{"x":12.75,"y":0.9},{"x":12.85,"y":1.0},{"x":12.95,"y":0.7},{"x":13.1,"y":0.0},{"x":13.25,"y":-0.6},{"x":13.4,"y":-0.95},{"x":13.5,"y":-1.0},{"x":13.6,"y":-0.6},{"x":13.75,"y":0.1},{"x":13.85,"y":0.5},{"x":13.95,"y":0.7}
],
"ddat": [
{"x":2.2,"y":-0.1},{"x":2.25,"y":-0.15},{"x":2.3,"y":-0.15},{"x":2.35,"y":-0.1},{"x":2.4,"y":-0.1},{"x":2.45,"y":0.0},{"x":2.5,"y":0.05},{"x":2.55,"y":0.0},{"x":2.6,"y":-0.05},{"x":2.65,"y":-0.2},{"x":2.7,"y":-0.3},{"x":2.75,"y":-0.4},{"x":2.8,"y":-0.35},{"x":2.85,"y":-0.45},{"x":2.9,"y":-0.4},{"x":2.95,"y":-0.4},{"x":3.0,"y":-0.3},{"x":3.05,"y":-0.1},{"x":3.1,"y":0.1},{"x":3.15,"y":0.25},{"x":3.2,"y":0.35},{"x":3.25,"y":0.45},{"x":3.3,"y":0.3},{"x":3.35,"y":0.4},{"x":3.4,"y":0.1},{"x":3.45,"y":-0.05},{"x":3.5,"y":-0.25},{"x":3.55,"y":-0.35},{"x":3.6,"y":-0.55},{"x":3.65,"y":-0.7},{"x":3.7,"y":-0.6},{"x":3.75,"y":-0.45},{"x":3.8,"y":-0.25},{"x":3.85,"y":-0.1},{"x":3.9,"y":0.1},{"x":3.95,"y":0.3},{"x":4.0,"y":0.5},{"x":4.05,"y":0.65},{"x":4.1,"y":0.6},{"x":4.15,"y":0.7},{"x":4.2,"y":0.75},{"x":4.25,"y":0.65},{"x":4.3,"y":0.72},{"x":4.35,"y":0.55},{"x":4.4,"y":0.5},{"x":4.45,"y":0.3},{"x":4.5,"y":0.2},{"x":4.55,"y":-0.1},{"x":4.6,"y":-0.3},{"x":4.65,"y":-0.45},{"x":4.7,"y":-0.5},{"x":4.75,"y":-0.8},{"x":4.8,"y":-0.7},{"x":4.85,"y":-0.8},{"x":4.9,"y":-0.55},{"x":4.95,"y":-0.5},{"x":5.0,"y":-0.35},{"x":5.05,"y":-0.2},{"x":5.1,"y":-0.1},{"x":5.15,"y":0.1},{"x":5.2,"y":0.25},{"x":5.25,"y":0.5},{"x":5.3,"y":0.3},{"x":5.35,"y":0.45},{"x":5.4,"y":0.3},{"x":5.45,"y":0.5},{"x":5.5,"y":0.35},{"x":5.55,"y":0.2},{"x":5.6,"y":0.45},{"x":5.65,"y":0.3},{"x":5.7,"y":0.15},{"x":5.75,"y":0.5},{"x":5.8,"y":0.3},{"x":5.85,"y":0.05},{"x":5.9,"y":-0.15},{"x":5.95,"y":-0.3},{"x":6.0,"y":-0.45},{"x":6.05,"y":-0.7},{"x":6.1,"y":-0.9},{"x":6.15,"y":-1.05},{"x":6.2,"y":-0.95},{"x":6.25,"y":-0.8},{"x":6.3,"y":-0.85},{"x":6.35,"y":-0.6},{"x":6.4,"y":-0.5},{"x":6.45,"y":-0.35},{"x":6.5,"y":-0.2},{"x":6.55,"y":0.0},{"x":6.6,"y":0.2},{"x":6.65,"y":0.35},{"x":6.7,"y":0.4},{"x":6.75,"y":0.6},{"x":6.8,"y":0.5},{"x":6.85,"y":0.55},{"x":6.9,"y":0.7},{"x":6.95,"y":0.55},{"x":7.0,"y":0.8},{"x":7.05,"y":0.6},{"x":7.1,"y":1.2},{"x":7.15,"y":0.5},{"x":7.2,"y":0.9},{"x":7.25,"y":0.55},{"x":7.3,"y":0.85},{"x":7.35,"y":0.2},{"x":7.4,"y":0.0},{"x":7.45,"y":-0.6},{"x":7.5,"y":-1.0},{"x":7.55,"y":-1.1},{"x":7.6,"y":-1.05},{"x":7.65,"y":-1.2},{"x":7.7,"y":-0.9},{"x":7.75,"y":-1.05},{"x":7.8,"y":-0.6},{"x":7.85,"y":-0.4},{"x":7.9,"y":0.0},{"x":7.95,"y":0.4},{"x":8.0,"y":0.8},{"x":8.05,"y":1.2},{"x":8.1,"y":1.4},{"x":8.15,"y":1.55},{"x":8.2,"y":1.5},{"x":8.25,"y":1.35},{"x":8.3,"y":1.1},{"x":8.35,"y":0.8},{"x":8.4,"y":0.5},{"x":8.45,"y":0.2},{"x":8.5,"y":-0.3},{"x":8.55,"y":-0.5},{"x":8.6,"y":-0.4},{"x":8.65,"y":-0.6},{"x":8.7,"y":-0.5},{"x":8.75,"y":-0.7},{"x":8.8,"y":-0.4},{"x":8.85,"y":-1.0},{"x":8.9,"y":-0.6},{"x":8.95,"y":-1.0},{"x":9.0,"y":-0.5},{"x":9.05,"y":-1.25},{"x":9.1,"y":-0.3},{"x":9.15,"y":0.2},{"x":9.2,"y":1.0},{"x":9.25,"y":0.9},{"x":9.3,"y":1.05},{"x":9.35,"y":1.0},{"x":9.4,"y":1.5},{"x":9.45,"y":1.2},{"x":9.5,"y":1.4},{"x":9.55,"y":0.8},{"x":9.6,"y":0.3},{"x":9.65,"y":-0.2},{"x":9.7,"y":-0.8},{"x":9.75,"y":-0.75},{"x":9.8,"y":-0.8},{"x":9.85,"y":-0.7},{"x":9.9,"y":-0.8},{"x":9.95,"y":-1.3},{"x":10.0,"y":-0.9},{"x":10.05,"y":-0.3},{"x":10.1,"y":0.1},{"x":10.15,"y":0.3},{"x":10.2,"y":0.1},{"x":10.25,"y":0.3},{"x":10.3,"y":0.5},{"x":10.35,"y":0.6},{"x":10.4,"y":0.9},{"x":10.45,"y":0.7},{"x":10.5,"y":1.0},{"x":10.55,"y":0.8},{"x":10.6,"y":1.55},{"x":10.65,"y":1.0},{"x":10.7,"y":0.7},{"x":10.75,"y":0.9},{"x":10.8,"y":0.2},{"x":10.85,"y":-0.5},{"x":10.9,"y":-1.2},{"x":10.95,"y":-1.55},{"x":11.0,"y":-1.8},{"x":11.05,"y":-1.1},{"x":11.1,"y":-0.9},{"x":11.15,"y":-0.6},{"x":11.2,"y":-0.3},{"x":11.25,"y":0.2},{"x":11.3,"y":0.5},{"x":11.35,"y":0.9},{"x":11.4,"y":1.1},{"x":11.45,"y":0.6},{"x":11.5,"y":1.55},{"x":11.55,"y":0.9},{"x":11.6,"y":1.0},{"x":11.65,"y":0.7},{"x":11.7,"y":1.95},{"x":11.75,"y":0.8},{"x":11.8,"y":0.6},{"x":11.85,"y":0.4},{"x":11.9,"y":0.5},{"x":11.95,"y":-0.4},{"x":12.0,"y":-0.3},{"x":12.05,"y":-1.3},{"x":12.1,"y":-0.6},{"x":12.15,"y":-1.4},{"x":12.2,"y":-1.9},{"x":12.25,"y":-1.1},{"x":12.3,"y":-1.6},{"x":12.35,"y":-0.8},{"x":12.4,"y":-1.2},{"x":12.45,"y":-0.6},{"x":12.5,"y":-0.9},{"x":12.55,"y":0.0},{"x":12.6,"y":0.5},{"x":12.65,"y":1.2},{"x":12.7,"y":0.8},{"x":12.75,"y":1.25},{"x":12.8,"y":0.9},{"x":12.85,"y":1.1},{"x":12.9,"y":0.6},{"x":12.95,"y":0.8},{"x":13.0,"y":0.1},{"x":13.05,"y":-0.5},{"x":13.1,"y":-0.3},{"x":13.15,"y":-1.0},{"x":13.2,"y":-0.7},{"x":13.25,"y":-1.3},{"x":13.3,"y":-1.1},{"x":13.35,"y":-1.6},{"x":13.4,"y":-1.3},{"x":13.45,"y":-1.8},{"x":13.5,"y":-1.5},{"x":13.55,"y":-0.7},{"x":13.6,"y":0.0},{"x":13.65,"y":-0.9},{"x":13.7,"y":0.3},{"x":13.75,"y":0.5},{"x":13.8,"y":0.4},{"x":13.85,"y":1.6},{"x":13.9,"y":2.0},{"x":13.95,"y":2.4}
],
"emag": [
{"x":0.05,"y":0.4},{"x":0.15,"y":0.8},{"x":0.25,"y":0.5},{"x":0.32,"y":0.3},{"x":0.4,"y":0.7},{"x":0.5,"y":1.1},{"x":0.6,"y":0.9},{"x":0.7,"y":0.6},{"x":0.8,"y":1.5},{"x":0.9,"y":2.4},{"x":1.0,"y":1.9},{"x":1.1,"y":1.2},{"x":1.2,"y":3.0},{"x":1.3,"y":4.6},{"x":1.4,"y":3.8},{"x":1.5,"y":1.5},{"x":1.57,"y":0.3},{"x":1.65,"y":1.8},{"x":1.75,"y":3.2},{"x":1.85,"y":4.2},{"x":1.95,"y":5.5},{"x":2.05,"y":7.0},{"x":2.15,"y":7.6},{"x":2.25,"y":8.0},{"x":2.35,"y":11.5},{"x":2.45,"y":19},{"x":2.52,"y":24.8},{"x":2.58,"y":24.0},{"x":2.65,"y":20},{"x":2.75,"y":14},{"x":2.85,"y":8.5},{"x":2.95,"y":5.0},{"x":3.05,"y":3.5},{"x":3.15,"y":3.6},{"x":3.25,"y":4.2},{"x":3.35,"y":3.5},{"x":3.42,"y":3.2},{"x":3.5,"y":4.4},{"x":3.58,"y":3.5},{"x":3.65,"y":1.5},{"x":3.72,"y":0.3},{"x":3.8,"y":2.0},{"x":3.9,"y":3.5},{"x":4.0,"y":4.0},{"x":4.1,"y":3.6},{"x":4.2,"y":3.0},{"x":4.3,"y":2.4},{"x":4.4,"y":3.6},{"x":4.5,"y":4.8},{"x":4.6,"y":4.3},{"x":4.7,"y":3.2},{"x":4.8,"y":2.5},{"x":4.9,"y":3.2},{"x":4.97,"y":3.3},{"x":5.05,"y":1.5},{"x":5.12,"y":0.3},{"x":5.2,"y":2.2},{"x":5.3,"y":4.5},{"x":5.4,"y":5.5},{"x":5.47,"y":5.7},{"x":5.55,"y":5.2},{"x":5.65,"y":4.3},{"x":5.75,"y":3.4},{"x":5.85,"y":3.0},{"x":5.95,"y":3.4},{"x":6.05,"y":4.0},{"x":6.15,"y":3.8},{"x":6.25,"y":3.0},{"x":6.35,"y":2.2},{"x":6.5,"y":1.6},{"x":6.6,"y":1.8},{"x":6.75,"y":3.0},{"x":6.85,"y":3.5},{"x":7.0,"y":3.0},{"x":7.1,"y":2.5},{"x":7.25,"y":2.2},{"x":7.4,"y":1.6},{"x":7.55,"y":1.5},{"x":7.65,"y":1.6},{"x":7.8,"y":2.8},{"x":7.9,"y":3.3},{"x":8.0,"y":3.2}
],
"efit": [
{"x":0.05,"y":0.4},{"x":0.15,"y":0.8},{"x":0.25,"y":0.5},{"x":0.32,"y":0.3},{"x":0.4,"y":0.7},{"x":0.5,"y":1.1},{"x":0.6,"y":0.9},{"x":0.7,"y":0.6},{"x":0.8,"y":1.2},{"x":0.9,"y":1.5},{"x":1.0,"y":0.9},{"x":1.1,"y":1.3},{"x":1.15,"y":1.5},{"x":1.25,"y":1.2},{"x":1.35,"y":1.3},{"x":1.45,"y":2.0},{"x":1.55,"y":1.7},{"x":1.65,"y":2.5},{"x":1.75,"y":3.5},{"x":1.85,"y":4.5},{"x":1.95,"y":6.5},{"x":2.05,"y":10.5},{"x":2.1,"y":10.9},{"x":2.2,"y":9.5},{"x":2.3,"y":10.5},{"x":2.4,"y":15},{"x":2.53,"y":20.5},{"x":2.62,"y":19.5},{"x":2.72,"y":18.5},{"x":2.82,"y":16.5},{"x":2.9,"y":13},{"x":3.0,"y":8.0},{"x":3.1,"y":5.2},{"x":3.2,"y":4.8},{"x":3.3,"y":3.8},{"x":3.4,"y":2.3},{"x":3.5,"y":0.8},{"x":3.6,"y":1.5},{"x":3.7,"y":4.0},{"x":3.8,"y":5.1},{"x":3.9,"y":4.7},{"x":4.0,"y":3.8},{"x":4.1,"y":2.8},{"x":4.2,"y":1.8},{"x":4.3,"y":1.1},{"x":4.4,"y":1.0},{"x":4.5,"y":1.3},{"x":4.6,"y":1.1},{"x":4.75,"y":0.9},{"x":4.9,"y":0.7},{"x":5.05,"y":0.5},{"x":5.2,"y":0.25},{"x":5.35,"y":0.08},{"x":5.6,"y":0.05},{"x":5.8,"y":0.15},{"x":6.0,"y":0.1},{"x":6.2,"y":0.2},{"x":6.4,"y":0.1},{"x":6.6,"y":0.15},{"x":6.8,"y":0.1},{"x":7.0,"y":0.15},{"x":7.2,"y":0.1},{"x":7.4,"y":0.15},{"x":7.6,"y":0.1},{"x":7.8,"y":0.12},{"x":8.0,"y":0.1}
],
"fblue": [
{"x":0.1,"y":0.4},{"x":0.2,"y":0.7},{"x":0.3,"y":0.4},{"x":0.4,"y":0.7},{"x":0.5,"y":1.1},{"x":0.58,"y":0.8},{"x":0.65,"y":0.4},{"x":0.75,"y":1.6},{"x":0.85,"y":3.0},{"x":0.95,"y":2.4},{"x":1.02,"y":1.5},{"x":1.1,"y":2.3},{"x":1.2,"y":3.2},{"x":1.3,"y":2.0},{"x":1.4,"y":0.3},{"x":1.47,"y":1.6},{"x":1.55,"y":2.3},{"x":1.62,"y":1.8},{"x":1.7,"y":0.6},{"x":1.8,"y":2.0},{"x":1.9,"y":4.0},{"x":2.0,"y":7.5},{"x":2.07,"y":8.5},{"x":2.15,"y":8.2},{"x":2.22,"y":7.0},{"x":2.3,"y":6.0},{"x":2.38,"y":10},{"x":2.45,"y":15},{"x":2.52,"y":18.5},{"x":2.6,"y":20.5},{"x":2.68,"y":21.0},{"x":2.76,"y":20.0},{"x":2.85,"y":18},{"x":2.93,"y":14},{"x":3.0,"y":10},{"x":3.07,"y":6},{"x":3.12,"y":4.0},{"x":3.18,"y":4.5},{"x":3.25,"y":5.2},{"x":3.35,"y":4.9},{"x":3.45,"y":4.3},{"x":3.55,"y":3.0},{"x":3.65,"y":1.8},{"x":3.72,"y":2.0},{"x":3.8,"y":2.6},{"x":3.9,"y":2.7},{"x":4.0,"y":2.8},{"x":4.1,"y":3.0},{"x":4.17,"y":2.8},{"x":4.28,"y":0.7},{"x":4.35,"y":2.5},{"x":4.45,"y":4.5},{"x":4.55,"y":5.8},{"x":4.62,"y":6.2},{"x":4.72,"y":6.0},{"x":4.82,"y":5.3},{"x":4.92,"y":4.2},{"x":5.0,"y":3.6},{"x":5.1,"y":3.8},{"x":5.2,"y":4.3},{"x":5.3,"y":4.0},{"x":5.4,"y":3.4},{"x":5.5,"y":3.3},{"x":5.6,"y":3.1},{"x":5.7,"y":2.6},{"x":5.8,"y":2.1},{"x":5.9,"y":2.6},{"x":6.0,"y":4.0},{"x":6.1,"y":4.5},{"x":6.18,"y":4.6},{"x":6.28,"y":4.3},{"x":6.38,"y":3.7},{"x":6.5,"y":2.8},{"x":6.6,"y":2.0},{"x":6.7,"y":1.3},{"x":6.8,"y":1.0},{"x":6.9,"y":1.3},{"x":7.0,"y":1.5},{"x":7.15,"y":1.6},{"x":7.3,"y":1.6},{"x":7.45,"y":1.55},{"x":7.6,"y":1.5},{"x":7.7,"y":1.4},{"x":7.8,"y":1.1},{"x":7.9,"y":1.2},{"x":8.0,"y":1.3}
],
"ffit": [
{"x":0.1,"y":0.5},{"x":0.2,"y":0.8},{"x":0.3,"y":0.5},{"x":0.38,"y":0.4},{"x":0.5,"y":1.1},{"x":0.6,"y":0.8},{"x":0.68,"y":0.4},{"x":0.8,"y":1.3},{"x":0.92,"y":0.9},{"x":1.05,"y":0.7},{"x":1.18,"y":1.3},{"x":1.3,"y":1.8},{"x":1.42,"y":1.0},{"x":1.55,"y":2.0},{"x":1.65,"y":2.4},{"x":1.75,"y":3.3},{"x":1.85,"y":4.0},{"x":1.95,"y":6.5},{"x":2.05,"y":10.3},{"x":2.13,"y":11.0},{"x":2.2,"y":10.0},{"x":2.27,"y":9.5},{"x":2.35,"y":12},{"x":2.45,"y":17},{"x":2.53,"y":21},{"x":2.6,"y":22.4},{"x":2.68,"y":21.8},{"x":2.76,"y":20.5},{"x":2.85,"y":18},{"x":2.93,"y":14},{"x":3.0,"y":10},{"x":3.08,"y":6.5},{"x":3.15,"y":4.6},{"x":3.25,"y":4.0},{"x":3.35,"y":3.0},{"x":3.45,"y":2.0},{"x":3.55,"y":1.6},{"x":3.65,"y":2.5},{"x":3.78,"y":3.7},{"x":3.9,"y":3.3},{"x":4.0,"y":3.0},{"x":4.1,"y":2.8},{"x":4.2,"y":2.5},{"x":4.3,"y":1.5},{"x":4.4,"y":3.0},{"x":4.5,"y":5.2},{"x":4.6,"y":4.4},{"x":4.7,"y":3.0},{"x":4.8,"y":2.1},{"x":4.88,"y":3.0},{"x":4.97,"y":4.8},{"x":5.05,"y":4.3},{"x":5.15,"y":3.0},{"x":5.25,"y":1.5},{"x":5.35,"y":0.5},{"x":5.42,"y":0.0},{"x":5.5,"y":0.6},{"x":5.6,"y":0.9},{"x":5.7,"y":0.5},{"x":5.8,"y":0.8},{"x":5.88,"y":1.0},{"x":6.0,"y":0.4},{"x":6.1,"y":0.7},{"x":6.2,"y":0.8},{"x":6.32,"y":0.3},{"x":6.45,"y":0.6},{"x":6.6,"y":0.3},{"x":6.75,"y":0.5},{"x":6.9,"y":0.2},{"x":7.05,"y":0.5},{"x":7.2,"y":0.2},{"x":7.35,"y":0.4},{"x":7.5,"y":0.2},{"x":7.65,"y":0.4},{"x":7.8,"y":0.3},{"x":8.0,"y":0.45}
]
},
"concat": [
{
 "width": 410, "height": 298,
 "layer": [
  {"data": {"name": "pa"}, "mark": {"type": "line", "strokeWidth": 1.6, "clip": true},
   "encoding": {
    "x": {"field": "x", "type": "quantitative", "scale": {"domain": [11550, 11590], "nice": false, "zero": false}, "axis": {"values": [11550, 11560, 11570, 11580, 11590], "format": "d", "title": "E (eV)", "titleY": 65, "labelPadding": 21}},
    "y": {"field": "y", "type": "quantitative", "scale": {"domain": [0, 1.5], "nice": false}, "axis": {"values": [0, 0.2, 0.4, 0.6, 0.8, 1.0, 1.2, 1.4], "format": ".1f", "title": "μ (arb. un.)", "titleX": -67, "labelPadding": 14}},
    "color": {"field": "s", "type": "nominal", "scale": {"domain": ["Pt5", "Pt2.5Cu2.5", "Pt foil"], "range": ["#4a56c4", "#e466e4", "#3b4bd0"]}, "legend": {"title": null, "orient": "none", "legendX": 200, "legendY": 178, "symbolType": "stroke", "symbolSize": 2300, "symbolStrokeWidth": 1.6, "labelFontSize": 20, "labelFont": "DejaVu Sans", "labelColor": "#333333", "clipHeight": 27, "labelOffset": 12, "padding": 0, "rowPadding": 0}},
    "strokeDash": {"field": "s", "type": "nominal", "scale": {"domain": ["Pt5", "Pt2.5Cu2.5", "Pt foil"], "range": [[1, 0], [1, 0], [6, 4]]}, "legend": {"title": null, "orient": "none", "legendX": 200, "legendY": 178, "symbolType": "stroke", "symbolSize": 2300, "symbolStrokeWidth": 1.6, "labelFontSize": 20, "labelFont": "DejaVu Sans", "labelColor": "#333333", "clipHeight": 27, "labelOffset": 12, "padding": 0, "rowPadding": 0}}
   }},
  {"data": {"values": [{}]}, "mark": {"type": "text", "align": "left", "baseline": "middle", "fontSize": 25, "color": "#333333"}, "encoding": {"x": {"datum": 11551.46}, "y": {"datum": 1.36}, "text": {"value": "(a)"}}},
  {"data": {"values": [{}]}, "mark": {"type": "text", "align": "right", "baseline": "middle", "fontSize": 22, "fontWeight": "bold", "color": "#222222"}, "encoding": {"x": {"datum": 11587.4}, "y": {"datum": 1.34}, "text": {"value": "Pt L₃-edge"}}}
 ]
},
{
 "width": 410, "height": 298,
 "layer": [
  {"data": {"name": "pb"}, "mark": {"type": "line", "strokeWidth": 1.5, "clip": true},
   "encoding": {
    "x": {"field": "x", "type": "quantitative", "scale": {"domain": [8970, 9020], "nice": false, "zero": false}, "axis": {"values": [8970, 8980, 8990, 9000, 9010, 9020], "format": "d", "title": "E (eV)", "titleY": 65, "labelPadding": 21}},
    "y": {"field": "y", "type": "quantitative", "scale": {"domain": [0, 1.8], "nice": false}, "axis": {"values": [0, 0.5, 1.0, 1.5], "format": ".1f", "title": "μ (arb. un.)", "titleX": -57, "labelPadding": 15}},
    "color": {"field": "s", "type": "nominal", "scale": {"domain": ["CuO", "Cu", "Cu₂O", "Pt2.5Cu2.5", "Cu5"], "range": ["#8a4a7e", "#d45060", "#6e3e55", "#e060ea", "#e0404e"]}, "legend": {"title": null, "orient": "none", "legendX": 8, "legendY": 1, "symbolType": "stroke", "symbolSize": 1850, "symbolStrokeWidth": 1.5, "labelFontSize": 17, "labelFont": "DejaVu Sans", "labelColor": "#333333", "clipHeight": 24, "labelOffset": 10, "padding": 0, "rowPadding": 0}},
    "strokeDash": {"field": "s", "type": "nominal", "scale": {"domain": ["CuO", "Cu", "Cu₂O", "Pt2.5Cu2.5", "Cu5"], "range": [[7, 4], [7, 4], [7, 4], [1, 0], [1, 0]]}, "legend": {"title": null, "orient": "none", "legendX": 8, "legendY": 1, "symbolType": "stroke", "symbolSize": 1850, "symbolStrokeWidth": 1.5, "labelFontSize": 17, "labelFont": "DejaVu Sans", "labelColor": "#333333", "clipHeight": 24, "labelOffset": 10, "padding": 0, "rowPadding": 0}}
   }},
  {"data": {"values": [{}]}, "mark": {"type": "text", "align": "left", "baseline": "middle", "fontSize": 26, "color": "#333333"}, "encoding": {"x": {"datum": 9010.7}, "y": {"datum": 1.615}, "text": {"value": "(b)"}}},
  {"data": {"values": [{}]}, "mark": {"type": "text", "align": "right", "baseline": "middle", "fontSize": 23, "fontWeight": "bold", "color": "#222222"}, "encoding": {"x": {"datum": 9019.1}, "y": {"datum": 0.417}, "text": {"value": "Cu K-edge"}}}
 ]
},
{
 "width": 410, "height": 298,
 "layer": [
  {"data": {"name": "cdat"}, "mark": {"type": "line", "strokeWidth": 1.5, "color": "#ee1ee8", "clip": true},
   "encoding": {
    "x": {"field": "x", "type": "quantitative", "scale": {"domain": [0, 16], "nice": false}, "axis": {"values": [0, 2, 4, 6, 8, 10, 12, 14, 16], "format": "d", "title": "k (Å⁻¹)", "titleY": 67, "labelPadding": 13, "labelFontSize": 21}},
    "y": {"field": "y", "type": "quantitative", "scale": {"domain": [-3.2, 3.3], "nice": false, "zero": false}, "axis": {"values": [-3, -2, -1, 0, 1, 2, 3], "labelExpr": "toString(datum.value)", "title": "k²χ(k) (arb. un.)", "titleX": -60, "titleFontSize": 29, "labelPadding": 18, "labelFontSize": 21}}
   }},
  {"data": {"name": "cfit"}, "mark": {"type": "line", "strokeWidth": 1.4, "color": "#8f8f2e", "clip": true},
   "encoding": {"x": {"field": "x", "type": "quantitative"}, "y": {"field": "y", "type": "quantitative"}}},
  {"data": {"values": [{}]}, "mark": {"type": "text", "align": "left", "baseline": "middle", "fontSize": 27, "color": "#333333"}, "encoding": {"x": {"datum": 0.78}, "y": {"datum": 2.54}, "text": {"value": "Pt2.5Cu2.5"}}},
  {"data": {"values": [{}]}, "mark": {"type": "text", "align": "left", "baseline": "middle", "fontSize": 26, "color": "#333333"}, "encoding": {"x": {"datum": 14.24}, "y": {"datum": 2.58}, "text": {"value": "(c)"}}}
 ]
},
{
 "width": 410, "height": 298,
 "layer": [
  {"data": {"name": "ddat"}, "mark": {"type": "line", "strokeWidth": 1.5, "color": "#2424d8", "clip": true},
   "encoding": {
    "x": {"field": "x", "type": "quantitative", "scale": {"domain": [0, 16], "nice": false}, "axis": {"values": [0, 2, 4, 6, 8, 10, 12, 14, 16], "format": "d", "title": "k (Å⁻¹)", "titleY": 67, "labelPadding": 19, "labelFontSize": 21}},
    "y": {"field": "y", "type": "quantitative", "scale": {"domain": [-2.5, 2.5], "nice": false, "zero": false}, "axis": {"values": [-2, -1, 0, 1, 2], "labelExpr": "toString(datum.value)", "title": "k²χ(k) (arb. un.)", "titleX": -50, "titleFontSize": 29, "labelPadding": 16, "labelFontSize": 21}}
   }},
  {"data": {"name": "dfit"}, "mark": {"type": "line", "strokeWidth": 1.4, "color": "#b0b04a", "clip": true},
   "encoding": {"x": {"field": "x", "type": "quantitative"}, "y": {"field": "y", "type": "quantitative"}}},
  {"data": {"values": [{}]}, "mark": {"type": "text", "align": "left", "baseline": "middle", "fontSize": 27, "color": "#333333"}, "encoding": {"x": {"datum": 1.17}, "y": {"datum": 1.9}, "text": {"value": "Pt5"}}},
  {"data": {"values": [{}]}, "mark": {"type": "text", "align": "left", "baseline": "middle", "fontSize": 26, "color": "#333333"}, "encoding": {"x": {"datum": 14.67}, "y": {"datum": 2.01}, "text": {"value": "(d)"}}}
 ]
},
{
 "width": 410, "height": 298,
 "view": {"stroke": "#8cc6be", "strokeWidth": 1.5},
 "layer": [
  {"data": {"name": "efit"}, "mark": {"type": "line", "strokeWidth": 1.5, "color": "#8c8c35", "clip": true},
   "encoding": {
    "x": {"field": "x", "type": "quantitative", "scale": {"domain": [0, 8], "nice": false}, "axis": {"values": [0, 2, 4, 6, 8], "format": "d", "title": "r (Å)", "titleY": 58, "labelPadding": 21, "labelFontSize": 21}},
    "y": {"field": "y", "type": "quantitative", "scale": {"domain": [0, 27], "nice": false}, "axis": {"values": [0, 5, 10, 15, 20, 25], "format": "d", "title": "|FT[k²χ(k)]| (arb. un.)", "titleX": -76, "titleFontSize": 30, "labelPadding": 19, "labelFontSize": 21, "domainColor": "#8cc6be"}}
   }},
  {"data": {"name": "emag"}, "mark": {"type": "line", "strokeWidth": 1.5, "color": "#e04ce0", "clip": true},
   "encoding": {"x": {"field": "x", "type": "quantitative"}, "y": {"field": "y", "type": "quantitative"}}},
  {"data": {"values": [{}]}, "mark": {"type": "text", "align": "left", "baseline": "middle", "fontSize": 26, "color": "#333333"}, "encoding": {"x": {"datum": 7.06}, "y": {"datum": 24.1}, "text": {"value": "(e)"}}}
 ]
},
{
 "width": 410, "height": 298,
 "layer": [
  {"data": {"name": "ffit"}, "mark": {"type": "line", "strokeWidth": 1.5, "color": "#a8a845", "clip": true},
   "encoding": {
    "x": {"field": "x", "type": "quantitative", "scale": {"domain": [0, 8], "nice": false}, "axis": {"values": [0, 2, 4, 6, 8], "format": "d", "title": "r (Å)", "titleY": 61, "labelPadding": 15, "labelFontSize": 21}},
    "y": {"field": "y", "type": "quantitative", "scale": {"domain": [0, 25], "nice": false}, "axis": {"values": [0, 5, 10, 15, 20, 25], "format": "d", "title": "|FT[k²χ(k)]| (arb. un.)", "titleX": -65, "titleFontSize": 30, "labelPadding": 16, "labelFontSize": 21}}
   }},
  {"data": {"name": "fblue"}, "mark": {"type": "line", "strokeWidth": 1.5, "color": "#3a3ad0", "clip": true},
   "encoding": {"x": {"field": "x", "type": "quantitative"}, "y": {"field": "y", "type": "quantitative"}}},
  {"data": {"values": [{}]}, "mark": {"type": "text", "align": "left", "baseline": "middle", "fontSize": 26, "color": "#333333"}, "encoding": {"x": {"datum": 6.8}, "y": {"datum": 22.7}, "text": {"value": "(f)"}}}
 ]
}
]
}
